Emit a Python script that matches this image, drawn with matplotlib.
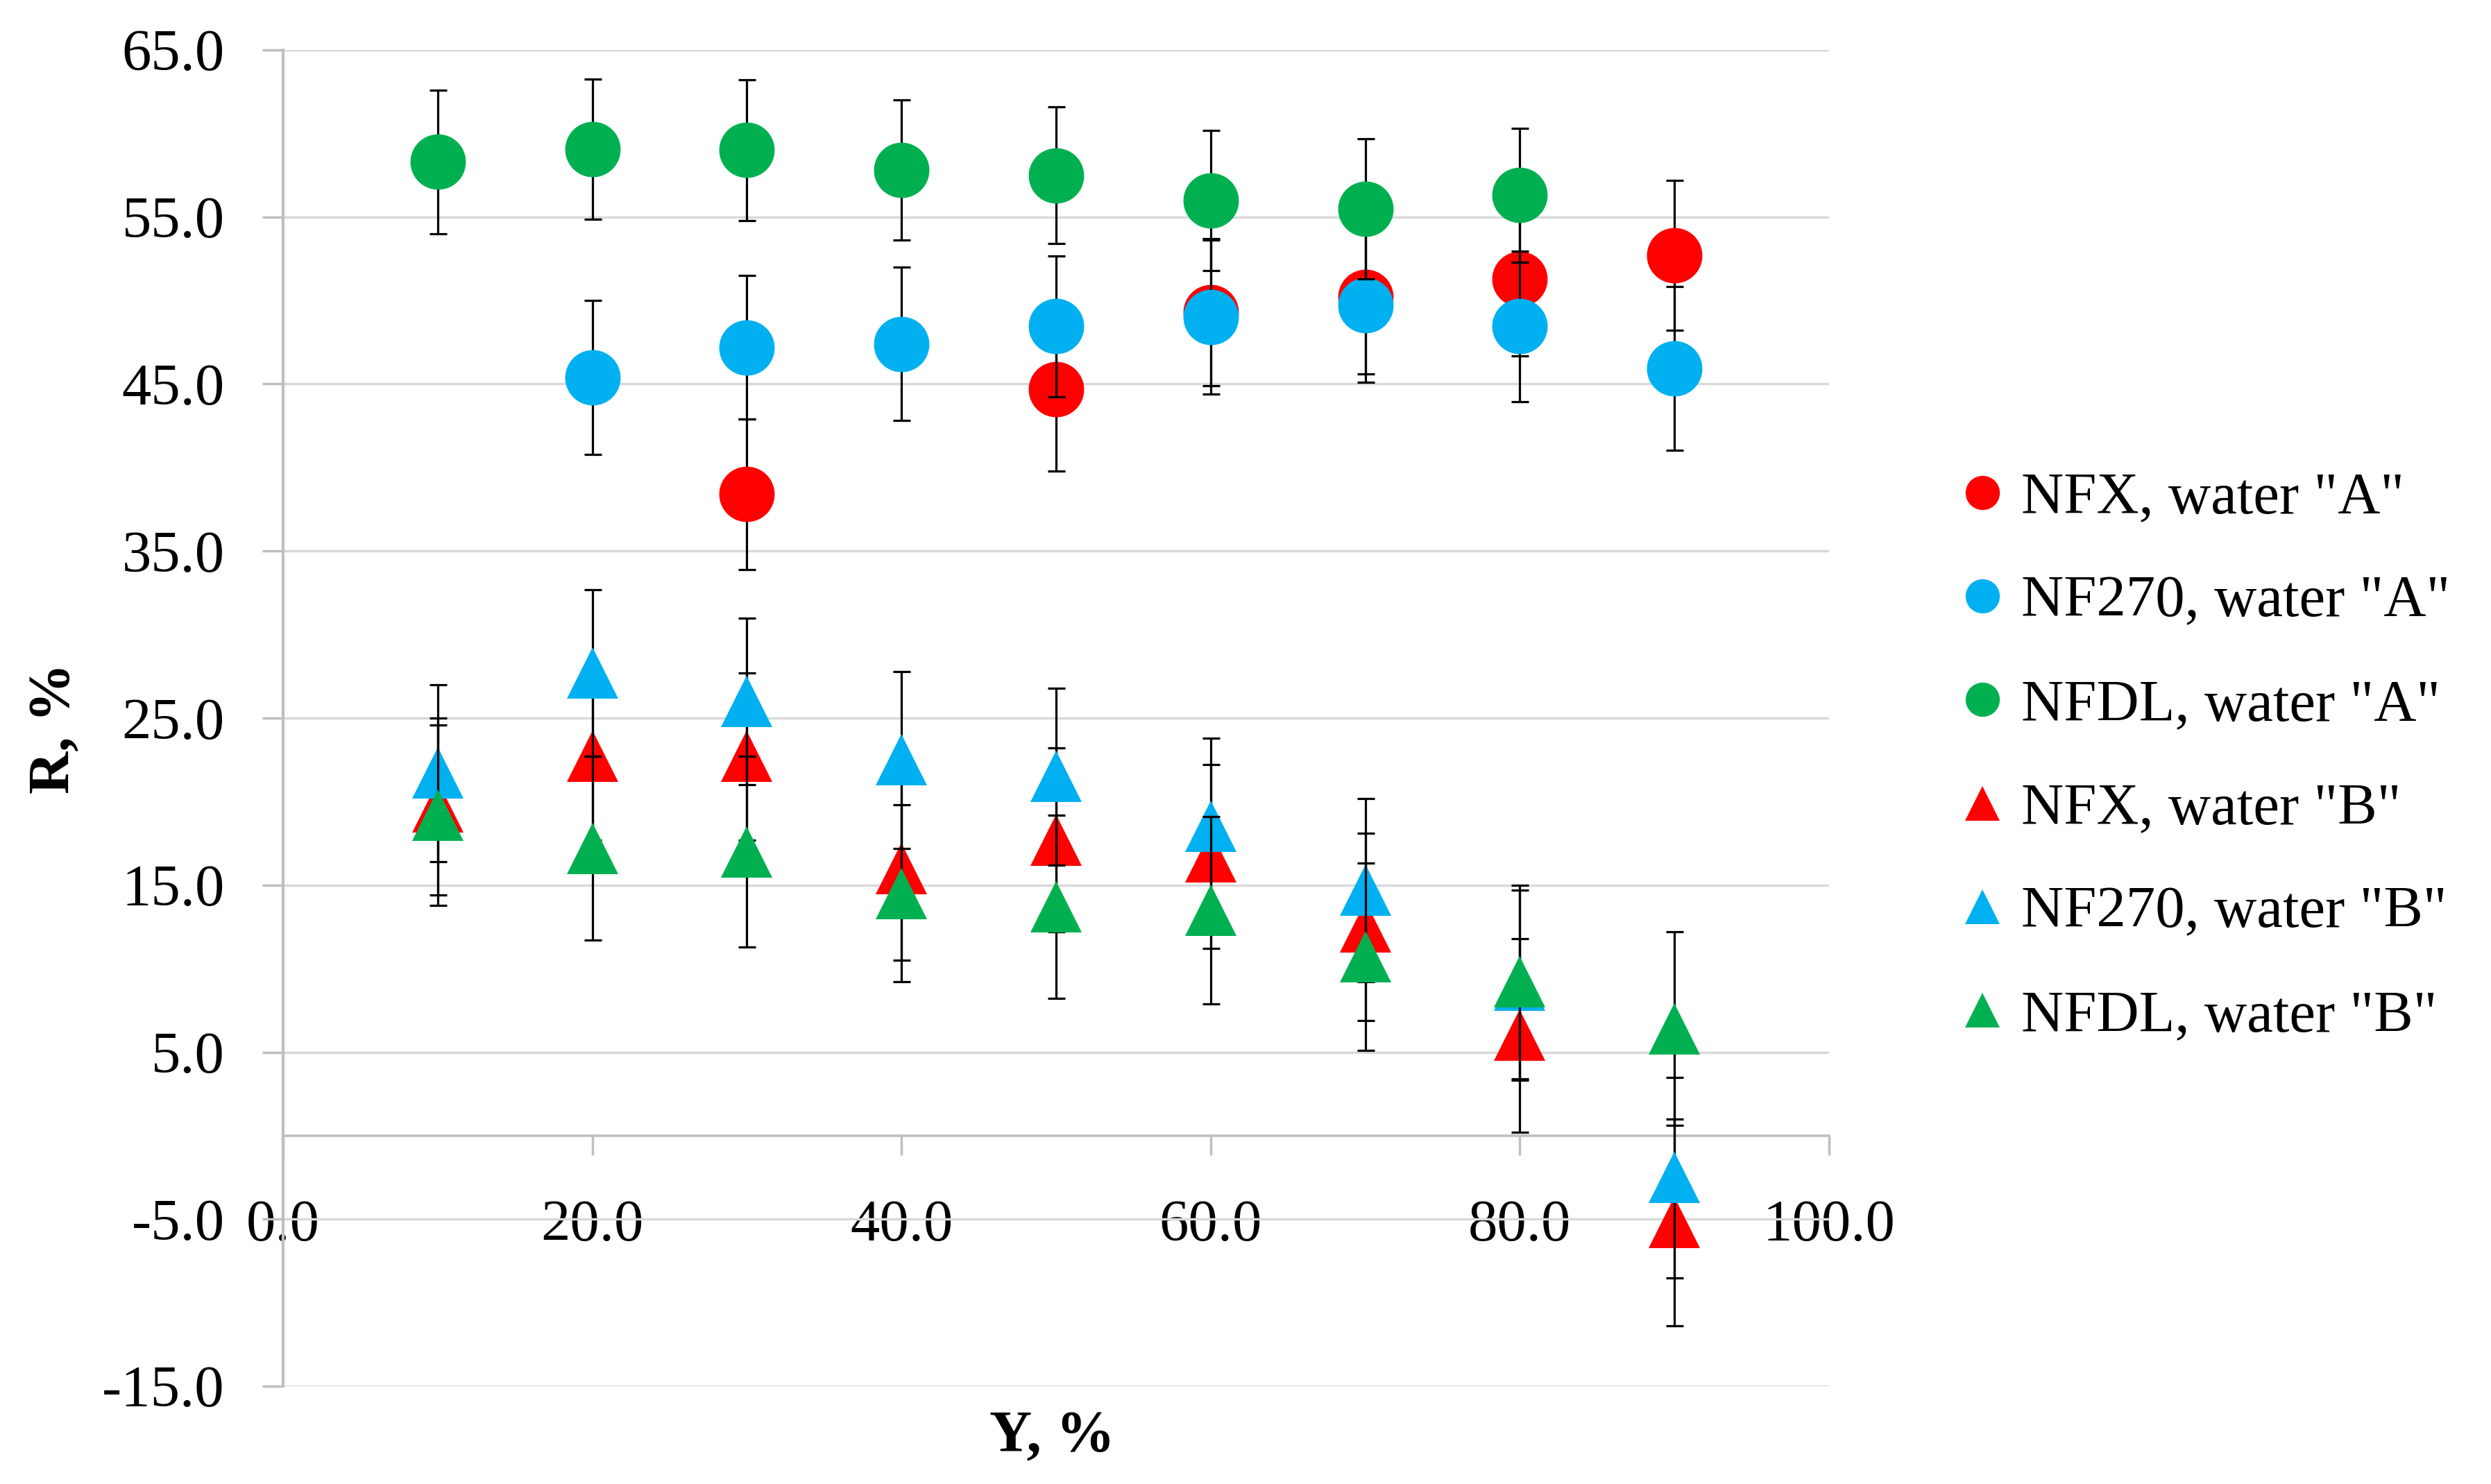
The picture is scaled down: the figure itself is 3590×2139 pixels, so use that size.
import numpy as np
import matplotlib
matplotlib.use("Agg")
import matplotlib.pyplot as plt
from matplotlib.lines import Line2D

plt.rcParams['font.family'] = ['Liberation Serif', 'DejaVu Serif']

# ---------------- data ----------------
labels = ['NFX, water "A"', 'NF270, water "A"', 'NFDL, water "A"',
          'NFX, water "B"', 'NF270, water "B"', 'NFDL, water "B"']

nfx_a_x = [30, 50, 60, 70, 80, 90]
nfx_a_y = [38.4, 44.7, 49.3, 50.2, 51.3, 52.7]
nfx_a_e = [4.5, 4.9, 4.4, 4.6, 4.6, 4.5]

nf270_a_x = [20, 30, 40, 50, 60, 70, 80, 90]
nf270_a_y = [45.4, 47.2, 47.4, 48.45, 49.0, 49.7, 48.45, 45.95]
nf270_a_e = [4.6, 4.3, 4.6, 4.2, 4.6, 4.6, 4.5, 4.9]

nfdl_a_x = [10, 20, 30, 40, 50, 60, 70, 80]
nfdl_a_y = [58.3, 59.05, 59.0, 57.8, 57.5, 56.0, 55.5, 56.3]
nfdl_a_e = [4.3, 4.2, 4.2, 4.2, 4.1, 4.2, 4.2, 4.0]

b_x = [10, 20, 30, 40, 50, 60, 70, 80, 90]
nfx_b_y = [19.7, 22.7, 22.7, 16.0, 17.7, 16.7, 12.5, 6.0, -5.2]
nfx_b_e = [5.3, 5.0, 5.0, 5.5, 5.5, 5.5, 5.6, 5.8, 6.2]
nf270_b_y = [21.7, 27.7, 26.0, 22.5, 21.5, 18.5, 14.7, 9.0, -2.5]
nf270_b_e = [5.3, 5.0, 5.0, 5.3, 5.3, 5.3, 5.5, 5.7, 6.0]
nfdl_b_y = [19.2, 17.2, 17.0, 14.5, 13.7, 13.5, 10.7, 9.2, 6.4]
nfdl_b_e = [5.4, 5.5, 5.7, 5.3, 5.5, 5.6, 5.6, 5.8, 5.8]

y_ticks = [-15, -5, 5, 15, 25, 35, 45, 55, 65]
y_tick_labels = ['-15.0', '-5.0', '5.0', '15.0', '25.0', '35.0', '45.0', '55.0', '65.0']
x_ticks = [0, 20, 40, 60, 80, 100]
x_tick_labels = ['0.0', '20.0', '40.0', '60.0', '80.0', '100.0']

# ---------------- style ----------------
RED, BLUE, GREEN = '#FF0000', '#00B0F0', '#00B050'
colors = [RED, BLUE, GREEN, RED, BLUE, GREEN]
markers = ['o', 'o', 'o', '^', '^', '^']
msizes = [57.5, 57.5, 57.5, 53, 53, 53]

series = [
    (nfx_a_x, nfx_a_y, nfx_a_e),
    (nf270_a_x, nf270_a_y, nf270_a_e),
    (nfdl_a_x, nfdl_a_y, nfdl_a_e),
    (b_x, nfx_b_y, nfx_b_e),
    (b_x, nf270_b_y, nf270_b_e),
    (b_x, nfdl_b_y, nfdl_b_e),
]

W, H = 3591, 2139
fig = plt.figure(figsize=(W / 100, H / 100), dpi=100)
ax_l, ax_r, ax_t, ax_b = 408, 2636, 72, 1998
ax = fig.add_axes([ax_l / W, 1 - ax_b / H, (ax_r - ax_l) / W, (ax_b - ax_t) / H])

FS = 61
GRID = '#D9D9D9'
AXC = '#BFBFBF'

for i, (xs, ys, es) in enumerate(series):
    ax.errorbar(xs, ys, yerr=es, fmt='none', ecolor='black', elinewidth=2.3,
                capsize=9, capthick=2.3, zorder=3 + 2 * i)
    ax.plot(xs, ys, linestyle='none', marker=markers[i], markersize=msizes[i],
            markerfacecolor=colors[i], markeredgewidth=0, zorder=4 + 2 * i)

ax.set_xlim(0, 100)
ax.set_ylim(-15, 65)
ax.set_yticks(y_ticks)
ax.set_yticklabels(y_tick_labels)
ax.set_xticks(x_ticks)
ax.set_xticklabels(x_tick_labels)

ax.yaxis.grid(True, color=GRID, linewidth=2.5, zorder=0)
ax.set_axisbelow(True)

for s in ['top', 'right']:
    ax.spines[s].set_visible(False)
ax.spines['left'].set_color(AXC)
ax.spines['left'].set_linewidth(3.0)
ax.spines['bottom'].set_position(('data', 0))
ax.spines['bottom'].set_color(AXC)
ax.spines['bottom'].set_linewidth(2.6)

ax.tick_params(axis='y', direction='out', length=21.6, width=2.5, color=AXC,
               pad=39, labelsize=FS)
ax.tick_params(axis='x', direction='out', length=20, width=2.5, color=AXC,
               pad=46, labelsize=FS)
for lab in ax.get_xticklabels():
    lab.set_zorder(20)

fig.text(80 / W, 1 - 1050 / H, 'R, %', rotation=90, ha='center', va='center',
         fontsize=FS, fontweight='bold')
fig.text(1516 / W, 1 - 2072 / H, 'Y, %', ha='center', va='center',
         fontsize=FS, fontweight='bold')

handles = [Line2D([], [], linestyle='none', marker=markers[i], markersize=35.5,
                  markerfacecolor=colors[i], markeredgewidth=0) for i in range(6)]
fig.legend(handles, labels, loc='center left',
           bbox_to_anchor=(2832 / W, 1 - 1092 / H), frameon=False,
           fontsize=FS, handlelength=0.6, handletextpad=0.36,
           labelspacing=0.85, borderpad=0, borderaxespad=0)

fig.savefig('out.png', dpi=100)
